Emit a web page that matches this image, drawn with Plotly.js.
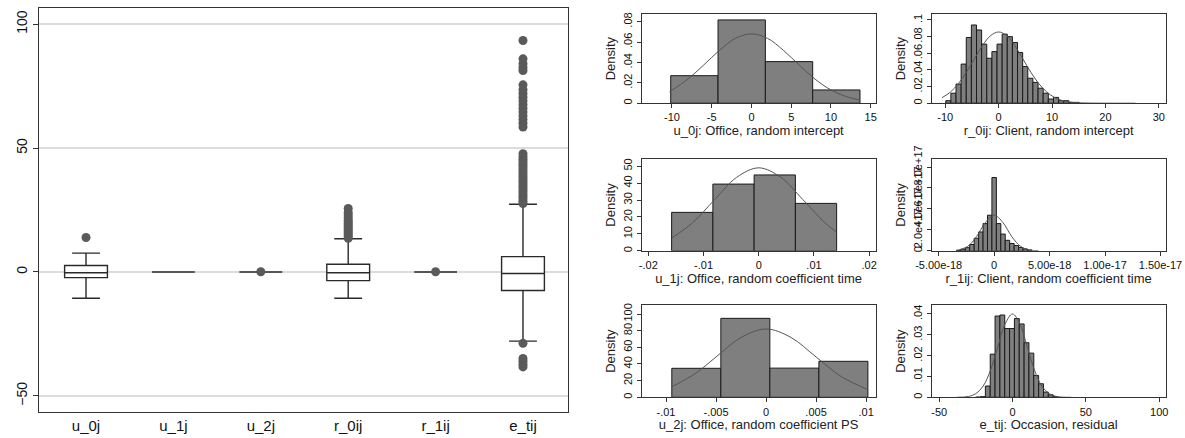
<!DOCTYPE html>
<html><head><meta charset="utf-8">
<script src="https://cdn.plot.ly/plotly-3.0.1.min.js"></script>
<style>html,body{margin:0;padding:0;background:#fff}#chart{width:1185px;height:438px}</style>
</head><body><div id="chart"></div>
<script>
// ---------- Box plot data ----------
const boxCats = ['u_0j','u_1j','u_2j','r_0ij','r_1ij','e_tij'];
const boxQ1 = [-2.3, 0, 0, -3.5, 0, -7.5];
const boxMedian = [-0.3, 0, 0, -0.3, 0, -0.6];
const boxQ3 = [2.6, 0, 0, 3.1, 0, 6.2];
const boxLowerFence = [-10.6, 0, 0, -10.6, 0, -27.9];
const boxUpperFence = [7.6, 0, 0, 13.4, 0, 27.3];
const u0jOutliers = [13.9];
const u2jOutliers = [0.1];
const r0ijOutliers = [13.6, 14.3, 15.0, 15.8, 16.5, 17.2, 18.0, 18.8, 19.5, 20.3, 21.0, 22.0, 23.0, 24.0, 25.6];
const r1ijOutliers = [0.1];
const etijOutliers = [27.6, 28.5, 29.5, 30.5, 31.5, 32.5, 33.5, 34.5, 35.5, 36.5, 37.5, 38.5, 39.5, 40.5, 41.5, 42.5, 43.5, 44.5, 45.5, 46.5, 47.7,
  58.5, 60.0, 61.5, 63.0, 64.5, 66.0, 67.5, 69.0, 70.5, 72.0, 73.5, 75.5, 81.3, 82.5, 84.0, 86.0, 93.4,
  -28.8, -34.9, -36.0, -37.2, -38.3];
const boxTickVals = [-50, 0, 50, 100];

// ---------- Histogram data ----------
const u0jBinCenters = [-7.175, -1.225, 4.725, 10.675];
const u0jBinWidth = 5.95;
const u0jDensity = [0.027, 0.0817, 0.0408, 0.013];
const u0jCurveX = [-10.3, -8, -6, -4, -2, 0, 2, 4, 6, 8, 10, 12, 13.6];
const u0jCurveY = [0.0112, 0.0236, 0.0375, 0.052, 0.0637, 0.068, 0.0637, 0.052, 0.0375, 0.0236, 0.013, 0.0063, 0.0032];

const r0ijBinCenters = [-9.42, -8.46, -7.5, -6.54, -5.58, -4.62, -3.66, -2.7, -1.74, -0.78, 0.18, 1.14, 2.1, 3.06, 4.02, 4.98, 5.94, 6.9, 7.86, 8.82, 9.78, 10.74, 11.7, 12.66, 13.62, 14.58];
const r0ijBinWidth = 0.96;
const r0ijDensity = [0.003, 0.012, 0.023, 0.047, 0.079, 0.094, 0.088, 0.071, 0.054, 0.062, 0.071, 0.083, 0.080, 0.073, 0.061, 0.044, 0.030, 0.025, 0.018, 0.012, 0.005, 0.007, 0.003, 0.003, 0.001, 0.001];
const r0ijCurveX = [-10.6, -9, -7.5, -6, -4.5, -3, -1.5, 0, 1.5, 3, 4.5, 6, 7.5, 9, 10.5, 12, 13.5, 15, 18, 25.6];
const r0ijCurveY = [0.0066, 0.0135, 0.0237, 0.0375, 0.0537, 0.0696, 0.0812, 0.0856, 0.0812, 0.0696, 0.0537, 0.0375, 0.0237, 0.0135, 0.0068, 0.003, 0.0012, 0.0005, 0.0001, 0.0];

const u1jBinCenters = [-0.012045, -0.004575, 0.002895, 0.010365];
const u1jBinWidth = 0.00747;
const u1jDensity = [22.7, 39.4, 44.8, 28.0];
const u1jCurveX = [-0.0157, -0.012, -0.008, -0.004, 0, 0.004, 0.008, 0.012, 0.0141];
const u1jCurveY = [7.7, 16.5, 30.2, 43.4, 49, 43.4, 30.2, 16.5, 11.0];

const r1ijBinCenters = [-3.2e-18, -2.8e-18, -2.4e-18, -2.0e-18, -1.6e-18, -1.2e-18, -0.8e-18, -0.4e-18, 0, 0.4e-18, 0.8e-18, 1.2e-18, 1.6e-18, 2.0e-18, 2.4e-18, 2.8e-18, 3.2e-18];
const r1ijBinWidth = 0.4e-18;
const r1ijDensity = [0.6e16, 1.5e16, 3e16, 6e16, 1.2e17, 1.8e17, 2.6e17, 3.4e17, 7.0e17, 2.6e17, 1.6e17, 1.0e17, 0.7e17, 0.5e17, 0.32e17, 0.18e17, 0.08e17];
const r1ijCurveX = [-3.2e-18, -2.4e-18, -1.6e-18, -0.8e-18, 0, 0.8e-18, 1.6e-18, 2.4e-18, 3.2e-18, 4.0e-18];
const r1ijCurveY = [0.08e17, 0.41e17, 1.34e17, 2.69e17, 3.4e17, 2.69e17, 1.34e17, 0.41e17, 0.08e17, 0.01e17];

const u2jBinCenters = [-0.00697, -0.00207, 0.00283, 0.00773];
const u2jBinWidth = 0.0049;
const u2jDensity = [34.8, 94.8, 35.0, 43.2];
const u2jCurveX = [-0.0094, -0.007, -0.005, -0.0025, 0, 0.0025, 0.005, 0.0075, 0.0102];
const u2jCurveY = [12.7, 29.1, 48.4, 71.8, 82, 71.8, 48.4, 25.0, 9.1];

const etijBinCenters = [-23.45, -20.15, -16.85, -13.55, -10.25, -6.95, -3.65, -0.35, 2.95, 6.25, 9.55, 12.85, 16.15, 19.45, 22.75, 26.05, 29.35];
const etijBinWidth = 3.3;
const etijDensity = [0.0001, 0.0003, 0.0054, 0.0207, 0.039, 0.0395, 0.033, 0.033, 0.0378, 0.0352, 0.0262, 0.0212, 0.0105, 0.0065, 0.0025, 0.0012, 0.0003];
const etijCurveX = [-38, -30, -25, -20, -15, -10, -5, 0, 5, 10, 15, 20, 25, 30, 40];
const etijCurveY = [0.00001, 0.0004, 0.0018, 0.0054, 0.013, 0.0243, 0.0353, 0.040, 0.0353, 0.0243, 0.013, 0.0054, 0.0018, 0.0004, 0.00001];

// ---------- Tick labels / titles ----------
const u0jXTicks = [-10, -5, 0, 5, 10, 15];
const u0jYTicks = [0, 0.02, 0.04, 0.06, 0.08];
const u0jYText = ['0', '.02', '.04', '.06', '.08'];
const r0ijXTicks = [-10, 0, 10, 20, 30];
const r0ijYTicks = [0, 0.02, 0.04, 0.06, 0.08, 0.1];
const r0ijYText = ['0', '.02', '.04', '.06', '.08', '.1'];
const u1jXTicks = [-0.02, -0.01, 0, 0.01, 0.02];
const u1jXText = ['-.02', '-.01', '0', '.01', '.02'];
const u1jYTicks = [0, 10, 20, 30, 40, 50];
const r1ijXTicks = [-5e-18, 0, 5e-18, 1e-17, 1.5e-17];
const r1ijXText = ['-5.00e-18', '0', '5.00e-18', '1.00e-17', '1.50e-17'];
const r1ijYTicks = [0, 2e17, 4e17, 6e17, 8e17];
const r1ijYText = ['0', '2.0e+17', '4.0e+17', '6.0e+17', '8.0e+17'];
const u2jXTicks = [-0.01, -0.005, 0, 0.005, 0.01];
const u2jXText = ['-.01', '-.005', '0', '.005', '.01'];
const u2jYTicks = [0, 20, 40, 60, 80, 100];
const etijXTicks = [-50, 0, 50, 100];
const etijYTicks = [0, 0.01, 0.02, 0.03, 0.04];
const etijYText = ['0', '.01', '.02', '.03', '.04'];
const histTitles = ['u_0j: Office, random intercept', 'r_0ij: Client, random intercept',
  'u_1j: Office, random coefficient time', 'r_1ij: Client, random coefficient time',
  'u_2j: Office, random coefficient PS', 'e_tij: Occasion, residual'];

const FONT = 'Liberation Sans, Arial, sans-serif';
const traces = [];

// Box plot
traces.push({
  type: 'box', x: boxCats, q1: boxQ1, median: boxMedian, q3: boxQ3,
  lowerfence: boxLowerFence, upperfence: boxUpperFence,
  boxpoints: false, width: 0.49, whiskerwidth: 0.65,
  fillcolor: '#ffffff', line: {color: '#2a2a2a', width: 1.4},
  xaxis: 'x', yaxis: 'y', hoverinfo: 'skip'
});
const outlierSets = [['u_0j', u0jOutliers], ['u_2j', u2jOutliers], ['r_0ij', r0ijOutliers], ['r_1ij', r1ijOutliers], ['e_tij', etijOutliers]];
outlierSets.forEach(([cat, vals]) => {
  traces.push({
    type: 'scatter', mode: 'markers', x: vals.map(() => cat), y: vals,
    marker: {size: 9, color: '#5a5a5a'}, xaxis: 'x', yaxis: 'y', hoverinfo: 'skip'
  });
});

const hists = [
  [u0jBinCenters, u0jBinWidth, u0jDensity, u0jCurveX, u0jCurveY],
  [r0ijBinCenters, r0ijBinWidth, r0ijDensity, r0ijCurveX, r0ijCurveY],
  [u1jBinCenters, u1jBinWidth, u1jDensity, u1jCurveX, u1jCurveY],
  [r1ijBinCenters, r1ijBinWidth, r1ijDensity, r1ijCurveX, r1ijCurveY],
  [u2jBinCenters, u2jBinWidth, u2jDensity, u2jCurveX, u2jCurveY],
  [etijBinCenters, etijBinWidth, etijDensity, etijCurveX, etijCurveY]
];
hists.forEach((h, i) => {
  const n = i + 2;
  traces.push({
    type: 'bar', x: h[0], y: h[2], width: h[1],
    marker: {color: '#7f7f7f', line: {color: '#1a1a1a', width: 1}},
    xaxis: 'x' + n, yaxis: 'y' + n, hoverinfo: 'skip'
  });
  traces.push({
    type: 'scatter', mode: 'lines', x: h[3], y: h[4],
    line: {color: '#555555', width: 1, shape: 'spline', smoothing: 1},
    xaxis: 'x' + n, yaxis: 'y' + n, hoverinfo: 'skip'
  });
});

const W = 1185, H = 438;
const fx = (a, b) => [a / W, b / W];
const fy = (top, bottom) => [1 - bottom / H, 1 - top / H];

const col1 = fx(641.7, 875.5), col2 = fx(931.7, 1165.5);
const row1 = fy(14, 103.2), row2 = fy(159.2, 250.8), row3 = fy(305, 397.3);

function hx(domain, range, tickvals, ticktext, title, anchor) {
  return {
    domain: domain, range: range, anchor: anchor, tickvals: tickvals, ticktext: ticktext,
    showgrid: false, zeroline: false, showline: true, mirror: true, linecolor: '#333333', linewidth: 1,
    ticks: 'outside', ticklen: 4, tickcolor: '#333333', tickfont: {size: 11, color: '#111111', family: FONT},
    title: {text: title, font: {size: 13, color: '#222222', family: FONT}, standoff: 0},
    fixedrange: true
  };
}
function hy(domain, range, tickvals, ticktext, anchor) {
  return {
    domain: domain, range: range, anchor: anchor, tickvals: tickvals, ticktext: ticktext, tickangle: -90,
    showgrid: false, zeroline: false, showline: true, mirror: true, linecolor: '#333333', linewidth: 1,
    ticks: 'outside', ticklen: 4, tickcolor: '#333333', tickfont: {size: 11, color: '#111111', family: FONT},
    title: {text: 'Density', font: {size: 13, color: '#222222', family: FONT}, standoff: 3},
    fixedrange: true
  };
}

const layout = {
  width: W, height: H, margin: {l: 0, r: 0, t: 0, b: 0},
  paper_bgcolor: '#ffffff', plot_bgcolor: '#ffffff', showlegend: false,
  font: {family: FONT, color: '#111111'},
  xaxis: {
    domain: fx(39, 568), range: [-0.538, 5.515], type: 'category', anchor: 'y',
    showgrid: false, zeroline: false, showline: true, mirror: true, linecolor: '#333333', linewidth: 1.3,
    ticks: '', tickfont: {size: 15, color: '#111111', family: FONT}, fixedrange: true
  },
  yaxis: {
    domain: fy(8, 412), range: [-56.5, 106.5], anchor: 'x', tickvals: boxTickVals, tickangle: -90,
    showgrid: true, gridcolor: '#dcdcdc', gridwidth: 1.5, zeroline: false, showline: true, mirror: true,
    linecolor: '#333333', linewidth: 1.3, ticks: 'outside', ticklen: 5, tickcolor: '#333333',
    tickfont: {size: 14, color: '#111111', family: FONT}, fixedrange: true
  },
  xaxis2: hx(col1, [-13.8, 15.6], u0jXTicks, u0jXTicks.map(String), histTitles[0], 'y2'),
  yaxis2: hy(row1, [0, 0.0875], u0jYTicks, u0jYText, 'x2'),
  xaxis3: hx(col2, [-12.53, 31.24], r0ijXTicks, r0ijXTicks.map(String), histTitles[1], 'y3'),
  yaxis3: hy(row1, [0, 0.1072], r0ijYTicks, r0ijYText, 'x3'),
  xaxis4: hx(col1, [-0.0212, 0.02114], u1jXTicks, u1jXText, histTitles[2], 'y4'),
  yaxis4: hy(row2, [0, 54.1], u1jYTicks, u1jYTicks.map(String), 'x4'),
  xaxis5: hx(col2, [-5.63e-18, 15.45e-18], r1ijXTicks, r1ijXText, histTitles[3], 'y5'),
  yaxis5: hy(row2, [0, 8.75e17], r1ijYTicks, r1ijYText, 'x5'),
  xaxis6: hx(col1, [-0.01243, 0.01094], u2jXTicks, u2jXText, histTitles[4], 'y6'),
  yaxis6: hy(row3, [0, 110.8], u2jYTicks, u2jYTicks.map(String), 'x6'),
  xaxis7: hx(col2, [-55.1, 104.3], etijXTicks, etijXTicks.map(String), histTitles[5], 'y7'),
  yaxis7: hy(row3, [0, 0.0443], etijYTicks, etijYText, 'x7')
};

Plotly.newPlot('chart', traces, layout, {staticPlot: true, displayModeBar: false});
</script></body></html>
